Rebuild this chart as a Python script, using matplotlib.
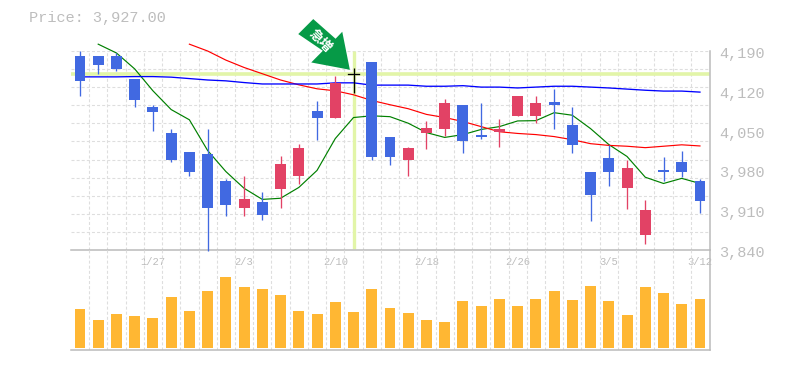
import numpy as np
import matplotlib
matplotlib.use("Agg")
import matplotlib.pyplot as plt
from matplotlib.patches import Polygon

opens  = [4181,4181,4181,4141,4092,4046.5,4013,4008,3961,3913.5,3924,3947,3969.5,4085,4073,4150,4171,4039.5,3999,4045,4053.5,4095.5,4043,4048,4076,4076,4101,4060.5,3976.5,4001,3948.5,3866,3980,3994,3961]
closes = [4137.5,4165.5,4158.5,4104,4083,3999,3978,3913.5,3919,3929,3901,3990.5,4020,4073,4134,4150,4003,4003,4020,4055,4099,4031,4039.5,4053.5,4111,4099,4095.5,4024,3936,3976.5,3983.5,3910,3976.5,3976.5,3926]
highs  = [4190,4181,4186.5,4141,4095.5,4053.5,4013,4053.5,3964,3969.5,3941.5,4004.5,4027,4102.5,4146,4160,4171,4039.5,4022,4067.5,4106,4095.5,4099,4071,4111,4111,4123.5,4092,3976.5,4025.5,3997.5,3927.5,4003,4015,3964]
lows   = [4111,4150,4155,4092,4050,3994,3969.5,3839,3899.5,3899.5,3892.5,3913.5,3955.5,4034,4073,4116.5,3999,3989,3971,4018.5,4041,4010,4036,4022,4076,4064,4052,4010,3891,3952,3912,3850.5,3961,3968,3905]
volumes = [39,28,34,32,30,51,37,57,71,61,59,53,37,34,46,36,59,40,35,28,26,47,42,49,42,49,57,48,62,47,33,61,55,44,49]
ma_short = [None,4202,4186.5,4158.5,4120,4087,4069,4015,3978,3948.5,3929,3931,3950,3980,4036,4073,4076,4074.5,4063,4046.5,4038,4043,4052,4057,4067,4067.5,4081.5,4077,4053.5,4025.5,4004.5,3968,3957,3966,3957]
ma_mid = [None]*6 + [4202,4190,4174,4161,4150,4139,4130.5,4123.5,4120,4113,4103,4095.5,4088.5,4078.5,4073,4066,4057,4048,4045,4043,4039.5,4034,4027,4024,4022.5,4020,4022.5,4025,4023]
ma_long = [4144.5,4144.5,4144.5,4145,4145,4144,4141.5,4139,4137.5,4134.5,4132,4132,4132,4132,4134,4134,4130,4130,4130,4128,4128,4129,4126.5,4126.5,4125,4126.5,4128,4128,4126.5,4125,4123,4121,4119.5,4119.5,4117.7]
date_idx = [4,9,14,19,24,29,34]
date_labels = ["1/27","2/3","2/10","2/18","2/26","3/5","3/12"]
price_ticks = [3840,3910,3980,4050,4120,4190]
price_labels = ["3,840","3,910","3,980","4,050","4,120","4,190"]
cross_idx = 15
cross_price = 4150
title_text = "Price: 3,927.00"
badge_text = "急増"

W, H = 785, 370
BLUE, RED = "#4169E1", "#E24265"
GRID, AXIS, TXT = "#DEDEDE", "#BBBBBB", "#BDBDBD"
BAND = "#E2F5A8"
MONO = "Liberation Mono"
DASH = (0, (2.7, 1.9))

fig = plt.figure(figsize=(W/100, H/100), dpi=100, facecolor="white")
def box(l, t, r, b):
    return [l/W, 1-b/H, (r-l)/W, (b-t)/H]
ax = fig.add_axes(box(70.5, 51, 710, 250))
vx = fig.add_axes(box(70.5, 250, 710, 350))

n = len(opens)
xs = np.arange(n)
xlim = (-0.52, 34.55)
for a in (ax, vx):
    a.set_xlim(*xlim)
    a.set_facecolor("none")
    for s in ("top", "left"):
        a.spines[s].set_visible(False)
    for s in ("right", "bottom"):
        a.spines[s].set_color(AXIS)
        a.spines[s].set_linewidth(1.1)
    a.set_xticks(xs[:-1] + 0.5, minor=False)
    a.set_xticklabels([])
    a.tick_params(length=0, labelleft=False)
    a.grid(True, axis="x", color=GRID, ls=DASH, lw=0.8, zorder=0)
    a.set_axisbelow(True)

ax.set_ylim(3840, 4190)
ax.set_yticks(np.linspace(3840, 4190, 12))
ax.set_yticklabels([])
ax.grid(True, axis="y", color=GRID, ls=DASH, lw=0.8, zorder=0)

ax.axhline(cross_price, color=BAND, lw=2.6, zorder=1)
ax.plot([cross_idx, cross_idx], [3842, 4190], color=BAND, lw=2.4, zorder=1, solid_capstyle="butt")

def series(vals):
    return np.array([np.nan if v is None else v for v in vals], dtype=float)
ax.plot(xs, series(ma_short), color="#008000", lw=0.85, zorder=2, clip_on=False)
ax.plot(xs, series(ma_mid), color="#FF0000", lw=0.85, zorder=2, clip_on=False)
ax.plot(xs, series(ma_long), color="#0000FF", lw=0.95, zorder=2, clip_on=False)

for i in range(n):
    o, c = opens[i], closes[i]
    col = "black" if o == c else (BLUE if c < o else RED)
    ax.plot([i, i], [lows[i], highs[i]], color=col, lw=0.95, zorder=3, clip_on=False,
            solid_capstyle="butt")
    if o == c:
        ax.plot([i-0.3, i+0.3], [o, o], color=col, lw=0.95, zorder=3)
    else:
        ax.bar(i, abs(o-c), bottom=min(o, c), width=0.6, color=col, lw=0, zorder=3)

vx.set_ylim(-2, 98)
vx.set_yticks([])
vx.bar(xs, volumes, width=0.6, color="#FFB733", lw=0, zorder=3)

for v, s in zip(price_ticks, price_labels):
    ax.annotate(s, (1, v), xycoords=("axes fraction", "data"), xytext=(9, -3), textcoords="offset pixels",
                ha="left", va="center", family=MONO, fontsize=11, color=TXT, annotation_clip=False)
for i, s in zip(date_idx, date_labels):
    ax.annotate(s, (i, 3840), xycoords="data", xytext=(0, -12), textcoords="offset pixels",
                ha="center", va="center", family=MONO, fontsize=7.6, color=TXT, annotation_clip=False)
fig.text(29/W, 1-18/H, title_text, family=MONO, fontsize=11, color=TXT, ha="left", va="center")

tip = ax.transData.transform((cross_idx-0.2, 4157))
shape = np.array([(-51.6,-35.7),(-36.6,-50.7),(-14.3,-31),(-7.6,-38),(0,0),(-38.6,-7.3),(-27,-19)])
shape_disp = tip + shape*np.array([1,-1])
fig.add_artist(Polygon(shape_disp, closed=True, transform=None, facecolor="#069A47", edgecolor="none", zorder=5))
centre = tip + np.array([-29.3, 29])
fig.text(centre[0]/W, centre[1]/H, badge_text, family=["Noto Sans CJK JP","DejaVu Sans"], fontsize=9.5,
         color="white", weight="bold", rotation=-45, rotation_mode="anchor", ha="center", va="center", zorder=6)

fig.savefig("out.png", dpi=100, facecolor="white")
